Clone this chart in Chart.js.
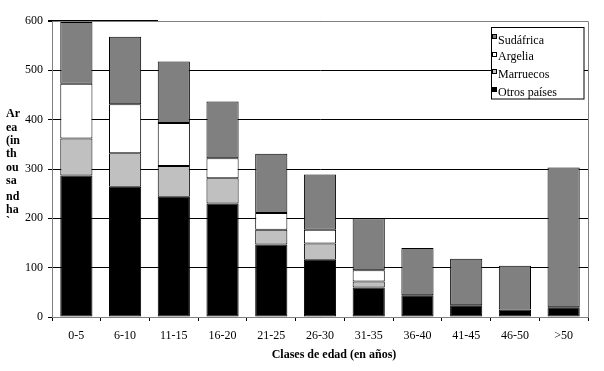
<!DOCTYPE html>
<html>
<head>
<meta charset="utf-8">
<script src="https://cdn.jsdelivr.net/npm/chart.js@4"></script>
<style>
html,body{margin:0;padding:0;background:#fff;}
#c{display:block;}
</style>
</head>
<body>
<canvas id="c" width="604" height="371"></canvas>
<script>
const categories = ["0-5","6-10","11-15","16-20","21-25","26-30","31-35","36-40","41-45","46-50",">50"];
const otrosPaises = [287,264,244,230,147,116,60,44,24,15,20];
const marruecos   = [75,68,62,51,30,33,12,0,0,0,0];
const argelia     = [111,99,87,41,34,28,23,0,0,0,0];
const sudafrica   = [125,137,125,115,120,112,105,96,94,89,283];
const yTicks = [0,100,200,300,400,500,600];
const yTitleLines = ["Ar","ea","(in","th","ou","sa","nd","ha","`"];
const xTitle = "Clases de edad (en años)";

const SERIF = '"Liberation Serif","Times New Roman",serif';

const decor = {
  id: 'decor',
  afterDraw(chart) {
    const ctx = chart.ctx;
    const a = chart.chartArea;
    ctx.save();
    ctx.strokeStyle = '#808080';
    ctx.lineWidth = 1;
    ctx.beginPath();
    ctx.moveTo(a.left, a.top + 0.5);
    ctx.lineTo(a.right + 0.5, a.top + 0.5);
    ctx.lineTo(a.right + 0.5, a.bottom);
    ctx.stroke();
    ctx.strokeStyle = '#000';
    ctx.beginPath();
    ctx.moveTo(a.left - 4, a.top - 0.5);
    ctx.lineTo(158, a.top - 0.5);
    ctx.stroke();

    ctx.fillStyle = '#000';
    ctx.font = 'bold 12px ' + SERIF;
    ctx.textAlign = 'left';
    ctx.textBaseline = 'middle';
    const ys = [114,128,141,154,168,181,197,210,222];
    yTitleLines.forEach((t, i) => ctx.fillText(t, 6, ys[i]));

    ctx.font = 'bold 12px ' + SERIF;
    ctx.textAlign = 'center';
    ctx.textBaseline = 'alphabetic';
    ctx.fillText(xTitle, 334, 358);

    const bx = 491.5, by = 27.5, bw = 92.5, bh = 71.5;
    ctx.fillStyle = '#fff';
    ctx.fillRect(bx, by, bw, bh);
    ctx.strokeStyle = '#000';
    ctx.strokeRect(bx, by, bw, bh);
    const order = [3,2,1,0];
    const rowTop = [34, 52, 69, 87];
    const rowBase = [44, 60, 78, 96];
    ctx.font = '12px ' + SERIF;
    ctx.textAlign = 'left';
    order.forEach((di, i) => {
      const ds = chart.data.datasets[di];
      ctx.fillStyle = ds.backgroundColor;
      ctx.fillRect(492.5, rowTop[i] + 0.5, 4, 4);
      ctx.strokeStyle = '#000';
      ctx.strokeRect(492.5, rowTop[i] + 0.5, 4, 4);
      ctx.fillStyle = '#000';
      ctx.fillText(ds.label, 498, rowBase[i]);
    });
    ctx.restore();
  }
};

const mk = (label, data, color) => ({
  label, data,
  backgroundColor: color,
  borderColor: '#000',
  borderWidth: (c) => (c.raw ? 1 : 0),
  borderSkipped: false,
  categoryPercentage: 1,
  barPercentage: 0.66
});

new Chart(document.getElementById('c'), {
  type: 'bar',
  data: {
    labels: categories,
    datasets: [
      mk('Otros países', otrosPaises, '#000000'),
      mk('Marruecos', marruecos, '#c0c0c0'),
      mk('Argelia', argelia, '#ffffff'),
      mk('Sudáfrica', sudafrica, '#808080')
    ]
  },
  options: {
    responsive: false,
    devicePixelRatio: 1,
    animation: false,
    layout: { padding: { top: 21, right: 16, left: 0, bottom: 0 } },
    plugins: { legend: { display: false }, tooltip: { enabled: false } },
    scales: {
      x: {
        stacked: true,
        grid: { display: true, drawOnChartArea: false, offset: true, tickLength: 4, color: '#000' },
        border: { display: true, color: '#808080' },
        ticks: { color: '#000', font: { family: SERIF, size: 12 }, padding: 8, maxRotation: 0, autoSkip: false },
        afterFit(s) { s.height = 54; }
      },
      y: {
        stacked: true,
        min: 0, max: 600,
        afterBuildTicks(s) { s.ticks = yTicks.map(v => ({ value: v })); },
        grid: { color: '#000', tickLength: 4 },
        border: { display: true, color: '#808080' },
        ticks: { color: '#000', font: { family: SERIF, size: 12 }, padding: 5 },
        afterFit(s) { s.width = 52; }
      }
    }
  },
  plugins: [decor]
});
</script>
</body>
</html>
